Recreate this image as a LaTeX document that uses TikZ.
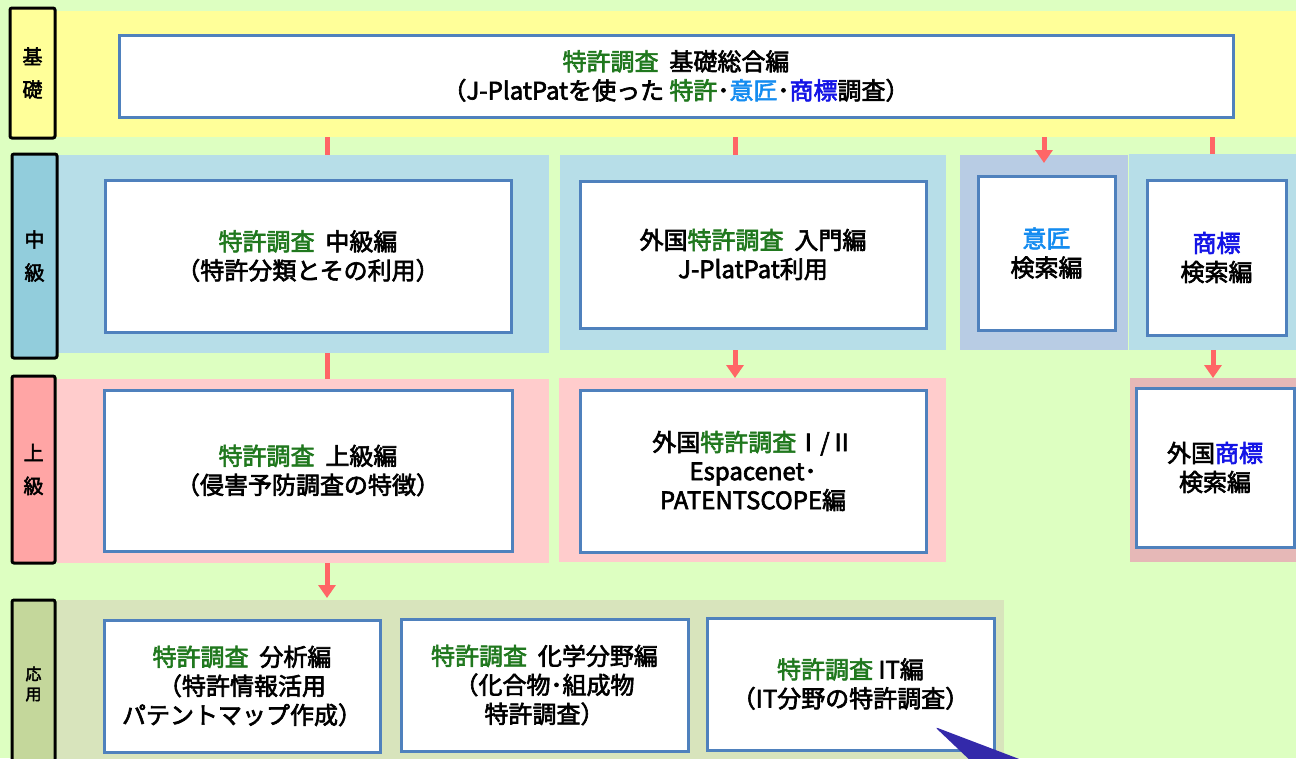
\documentclass[tikz,border=0pt]{standalone}
\usepackage{fontspec}
\setmainfont{Noto Sans CJK JP}[FakeBold=2.6]
\usepackage{xcolor}
\usetikzlibrary{arrows.meta}

\definecolor{bgGreen}{RGB}{221,255,193}
\definecolor{kisoY}{RGB}{255,255,153}
\definecolor{chuBand}{RGB}{183,222,232}
\definecolor{chuLab}{RGB}{146,205,220}
\definecolor{ishoBand}{RGB}{184,204,228}
\definecolor{joBand}{RGB}{255,204,204}
\definecolor{joLab}{RGB}{255,165,165}
\definecolor{gaishoBand}{RGB}{230,184,183}
\definecolor{oyoBand}{RGB}{216,228,188}
\definecolor{oyoLab}{RGB}{196,215,155}
\definecolor{cardLine}{RGB}{79,129,189}
\definecolor{arrowRed}{RGB}{255,102,102}
\definecolor{tGreen}{RGB}{32,120,30}
\definecolor{tLBlue}{RGB}{20,140,240}
\definecolor{tBlue}{RGB}{20,20,230}
\definecolor{pointerBlue}{RGB}{51,41,170}

\newcommand{\tgreen}[1]{\textcolor{tGreen}{#1}}
\newcommand{\tlblue}[1]{\textcolor{tLBlue}{#1}}
\newcommand{\tblue}[1]{\textcolor{tBlue}{#1}}
\newcommand{\gap}{\hspace{0.45em}}

\begin{document}
\begin{tikzpicture}[x=1pt,y=1pt,yscale=-1,xscale=1,
  band/.style={inner sep=0pt,outer sep=0pt},
  card/.style={draw=cardLine,line width=3pt,fill=white,align=center,inner sep=0pt,font=\fontsize{24}{29}\selectfont},
  lvl/.style={draw=black,line width=3pt,rounded corners=2pt,align=center,inner sep=0pt,font=\fontsize{20}{33}\selectfont},
  redbar/.style={draw=arrowRed,line width=5pt},
  redarr/.style={redbar,-{Triangle[width=17pt,length=13pt]}}]
\useasboundingbox (0,0) rectangle (1296,758);
\fill[bgGreen] (0,0) rectangle (1296,758);

%Bands
\node[band,fill=kisoY,minimum width=1241pt,minimum height=126pt] (kisoband) at (675.5,74) {};
\node[band,fill=chuBand,minimum width=492pt,minimum height=198pt] (chuA) at (303,254) {};
\node[band,fill=chuBand,minimum width=386pt,minimum height=195pt] (chuB) at (753,252.5) {};
\node[band,fill=ishoBand,minimum width=168pt,minimum height=195pt] (chuC) at (1044,252.5) {};
\node[band,fill=chuBand,minimum width=167pt,minimum height=196pt] (chuD) at (1212.5,252) {};
\node[band,fill=joBand,minimum width=492pt,minimum height=184pt] (joA) at (303,471) {};
\node[band,fill=joBand,minimum width=387pt,minimum height=184pt] (joB) at (752.5,470) {};
\node[band,fill=gaishoBand,minimum width=166pt,minimum height=184pt] (joD) at (1213,470) {};
\node[band,fill=oyoBand,minimum width=947pt,minimum height=160pt] (oyoband) at (530.5,680) {};

%Arrows hidden under the bands
\coordinate (colA) at (327,0);
\coordinate (colB) at (735,0);
\draw[redbar] (kisoband.south -| colA) -- (chuA.north -| colA);
\draw[redbar] (kisoband.south -| colB) -- (chuB.north -| colB);
\draw[redbar] (kisoband.south -| chuD) -- (chuD.north);
\draw[redbar] (chuA.south -| colA) -- (joA.north -| colA);

%Level labels
\node[lvl,fill=kisoY,minimum width=45pt,minimum height=130pt] (kisolab) at (32.5,73) {基\\礎};
\node[lvl,fill=chuLab,minimum width=45pt,minimum height=204pt] (chulab) at (34.5,256) {中\\級};
\node[lvl,fill=joLab,minimum width=43pt,minimum height=187pt] (jolab) at (33.5,469.5) {上\\級};
\node[lvl,fill=oyoLab,minimum width=43pt,minimum height=168pt,font=\fontsize{16}{20}\selectfont] (oyolab) at (33.5,684) {応\\用};

%Cards
\node[card,minimum width=1114pt,minimum height=82pt] (kiso) at (676,76)
  {\tgreen{特許調査}\gap 基礎総合編\\（J-PlatPatを使った \tgreen{特許}･\tlblue{意匠}･\tblue{商標}調査）};
\node[card,minimum width=406pt,minimum height=152pt] (chukyu) at (308,256)
  {\tgreen{特許調査}\gap 中級編\\（特許分類とその利用）};
\node[card,minimum width=346pt,minimum height=147pt] (nyumon) at (753,254.5)
  {外国\tgreen{特許調査}\gap 入門編\\J-PlatPat利用};
\node[card,minimum width=137pt,minimum height=154pt] (isho) at (1046.5,253)
  {\tlblue{意匠}\\検索編};
\node[card,minimum width=139pt,minimum height=155pt] (shohyo) at (1216.5,257.5)
  {\tblue{商標}\\検索編};
\node[card,minimum width=408pt,minimum height=161pt] (jokyu) at (308,470.5)
  {\tgreen{特許調査}\gap 上級編\\（侵害予防調査の特徴）};
\node[card,minimum width=346pt,minimum height=162pt] (gaikoku) at (753,471)
  {外国\tgreen{特許調査}Ⅰ/Ⅱ\\Espacenet･\\PATENTSCOPE編};
\node[card,minimum width=158pt,minimum height=159pt] (gaishohyo) at (1215,467.5)
  {外国\tblue{商標}\\検索編};
\node[card,minimum width=276pt,minimum height=132pt] (bunseki) at (242,686)
  {\tgreen{特許調査}\gap 分析編\\（特許情報活用\\パテントマップ作成）};
\node[card,minimum width=287pt,minimum height=132pt] (kagaku) at (544.5,685)
  {\tgreen{特許調査}\gap 化学分野編\\（化合物･組成物\\特許調査）};
\node[card,minimum width=287pt,minimum height=132pt] (itbox) at (850.5,684)
  {\tgreen{特許調査} IT編\\（IT分野の特許調査）};

%Arrows on top
\draw[redarr] (kisoband.south -| chuC) -- ([yshift=8pt]chuC.north);
\draw[redarr] (chuB.south -| colB) -- (joB.north -| colB);
\draw[redarr] (chuD.south -| joD) -- (joD.north);
\draw[redarr] (joA.south -| colA) -- ([yshift=-2pt]oyoband.north -| colA);

%Pointer
\fill[pointerBlue,rounded corners=3pt] (935,727) -- (1035,765) -- (975,765) -- cycle;

\end{tikzpicture}
\end{document}
